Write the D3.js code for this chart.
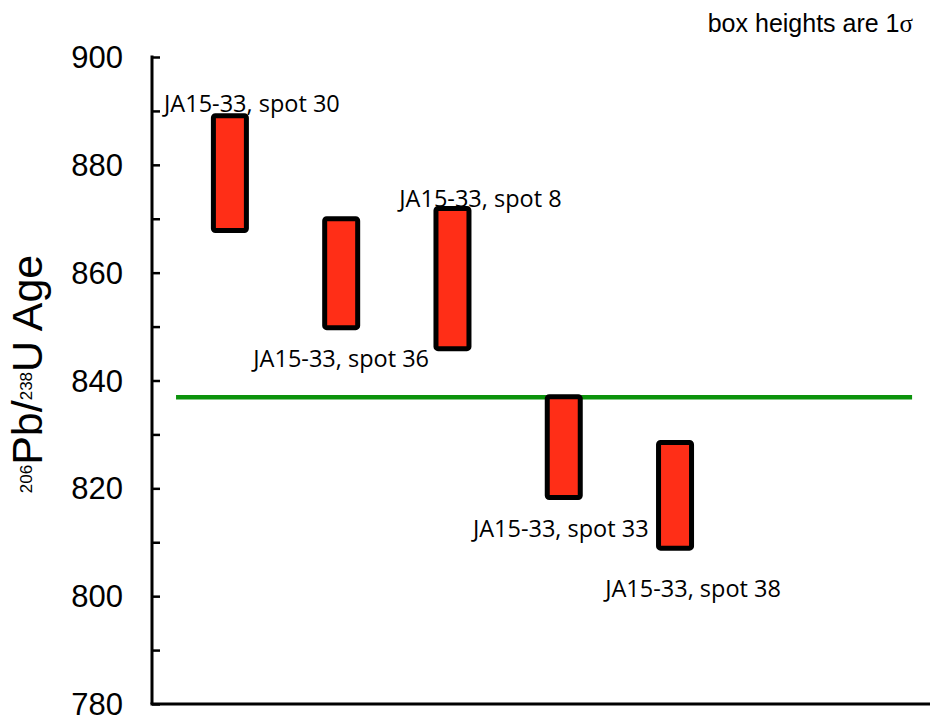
<!DOCTYPE html>
<html>
<head>
<meta charset="utf-8">
<script src="https://cdn.jsdelivr.net/npm/d3@7"></script>
<style>
  body { margin: 0; background: #fff; }
  svg { display: block; }
</style>
</head>
<body>
<div id="chart"></div>
<script>
// spot names, box bottoms and tops (Ma), weighted mean line
const spots = ["JA15-33, spot 30", "JA15-33, spot 36", "JA15-33, spot 8", "JA15-33, spot 33", "JA15-33, spot 38"];
const boxLow = [867.8, 849.8, 845.9, 818.3, 808.9];
const boxHigh = [889.1, 870.0, 871.9, 837.0, 828.5];
const meanAge = 836.9;
const yTicks = [780, 800, 820, 840, 860, 880, 900];

const width = 930, height = 720;

const svg = d3.select("#chart").append("svg")
    .attr("width", width)
    .attr("height", height);

// x is just the spot order 1..5
const x = d3.scaleLinear().domain([0.3, 7.3]).range([152, 931]);
const y = d3.scaleLinear().domain([780, 900]).range([704, 57]);

// mean line sits under the boxes
svg.append("line")
    .attr("x1", x(0.516)).attr("x2", x(7.13))
    .attr("y1", y(meanAge)).attr("y2", y(meanAge))
    .attr("stroke", "#0c930c")
    .attr("stroke-width", 4.5);

// label placement: above/below box, horizontal shift, vertical gap
const place = [
    {side: "top", dx: 22, dy: -4},
    {side: "bottom", dx: 0, dy: 39},
    {side: "top", dx: 28, dy: -2},
    {side: "bottom", dx: -3, dy: 40},
    {side: "bottom", dx: 18, dy: 49}
];

const data = spots.map((s, i) => ({name: s, lo: boxLow[i], hi: boxHigh[i], pos: i + 1, p: place[i]}));

svg.selectAll("text.lab")
    .data(data)
    .enter()
    .append("text")
    .attr("class", "lab")
    .attr("x", d => x(d.pos) + d.p.dx)
    .attr("y", d => (d.p.side == "top" ? y(d.hi) : y(d.lo)) + d.p.dy)
    .attr("text-anchor", "middle")
    .style("font-family", "'Open Sans', sans-serif")
    .style("font-size", "23.5px")
    .attr("fill", "#000")
    .text(d => d.name);

const boxW = 33;
svg.selectAll("rect.box")
    .data(data)
    .enter()
    .append("rect")
    .attr("class", "box")
    .attr("x", d => x(d.pos) - boxW / 2)
    .attr("y", d => y(d.hi))
    .attr("width", boxW)
    .attr("height", d => y(d.lo) - y(d.hi))
    .attr("rx", 2)
    .attr("fill", "#ff2e17")
    .attr("stroke", "#000")
    .attr("stroke-width", 5);

// y axis, ticks point inward
const yAxis = d3.axisRight(y)
    .tickValues(d3.range(780, 901, 10))
    .tickSize(8)
    .tickFormat("");

const gy = svg.append("g")
    .attr("transform", "translate(" + x(0.3) + ",0)")
    .call(yAxis);
gy.select(".domain").remove();
gy.selectAll(".tick line").attr("stroke", "#000").attr("stroke-width", 2.5);

svg.append("line")
    .attr("x1", x(0.3)).attr("x2", x(0.3))
    .attr("y1", y(900) - 1.5).attr("y2", y(780))
    .attr("stroke", "#000").attr("stroke-width", 3);

svg.append("line")
    .attr("x1", x(0.3) - 1.5).attr("x2", width)
    .attr("y1", y(780)).attr("y2", y(780))
    .attr("stroke", "#000").attr("stroke-width", 3);

svg.selectAll("text.ytick")
    .data(yTicks)
    .enter()
    .append("text")
    .attr("class", "ytick")
    .attr("x", 123)
    .attr("y", d => y(d))
    .attr("dy", "0.36em")
    .attr("text-anchor", "end")
    .style("font-family", "'Liberation Sans', Arial, sans-serif")
    .style("font-size", "31px")
    .text(d => d);

// axis title with superscript isotopes
const title = svg.append("text")
    .attr("transform", "translate(42,374) rotate(-90)")
    .attr("text-anchor", "middle")
    .style("font-family", "'Liberation Sans', Arial, sans-serif")
    .style("font-size", "43px");
title.append("tspan").style("font-size", "17px").attr("dy", -10).text("206");
title.append("tspan").attr("dy", 10).text("Pb/");
title.append("tspan").style("font-size", "17px").attr("dy", -10).text("238");
title.append("tspan").attr("dy", 10).text("U Age");

// note in the corner
const note = svg.append("text")
    .attr("x", 913)
    .attr("y", 32)
    .attr("text-anchor", "end")
    .style("font-family", "'Liberation Sans', Arial, sans-serif")
    .style("font-size", "25px")
    .text("box heights are 1");
note.append("tspan")
    .style("font-family", "'Liberation Serif', 'Times New Roman', serif")
    .text("σ");
</script>
</body>
</html>
